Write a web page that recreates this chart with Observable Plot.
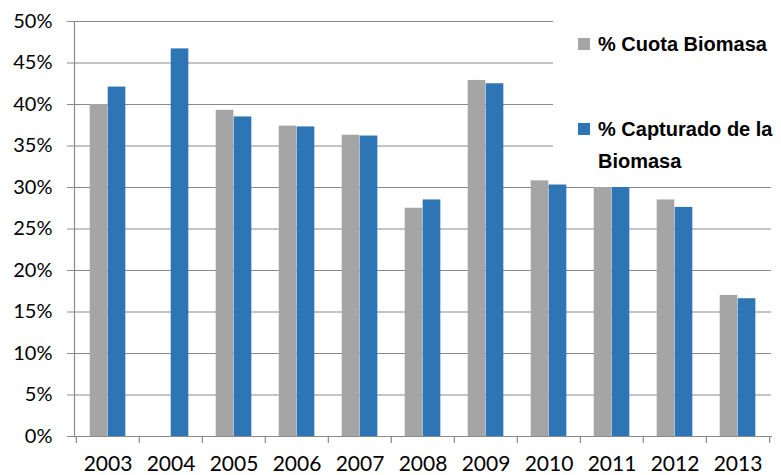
<!DOCTYPE html>
<html>
<head>
<meta charset="utf-8">
<script src="https://cdn.jsdelivr.net/npm/d3@7"></script>
<script src="https://cdn.jsdelivr.net/npm/@observablehq/plot@0.6"></script>
<style>
  html, body { margin: 0; padding: 0; background: #fff; }
  #wrap { position: relative; width: 781px; height: 475px; font-family: Lato, "Open Sans", sans-serif; }
  #legend { position: absolute; left: 553px; top: 0; width: 228px; height: 176px; background: #fff;
            font-family: "Liberation Sans", Arial, sans-serif; font-weight: 700; font-size: 20px; color: #000; }
  .item { position: absolute; left: 25px; line-height: 32px; }
  .sw { position: absolute; left: 0; width: 12px; height: 12px; top: 10px; }
  .txt { position: absolute; left: 20px; white-space: nowrap; }
</style>
</head>
<body>
<div id="wrap"><div id="chart"></div>
  <div id="legend"></div>
</div>
<script>
const years = ["2003","2004","2005","2006","2007","2008","2009","2010","2011","2012","2013"];
const cuota = [40.0, null, 39.3, 37.4, 36.3, 27.5, 42.9, 30.8, 30.0, 28.5, 17.0];
const capturado = [42.1, 46.7, 38.5, 37.3, 36.2, 28.5, 42.5, 30.3, 30.0, 27.6, 16.6];
const seriesNames = ["% Cuota Biomasa", "% Capturado de la Biomasa"];
const seriesColors = ["#A5A5A5", "#2E75B6"];
const yTicks = [0, 5, 10, 15, 20, 25, 30, 35, 40, 45, 50];

const dCuota = years.map((y, i) => ({year: y, value: cuota[i]})).filter(d => d.value != null);
const dCap = years.map((y, i) => ({year: y, value: capturado[i]}));

const W = 781, H = 475, mL = 74, mR = 10, mT = 21, mB = 39;
const step = (W - mL - mR) / years.length;
const half = step / 2;
const grid = "#8a8a8a";

const chart = Plot.plot({
  width: W, height: H,
  marginLeft: mL, marginRight: mR, marginTop: mT, marginBottom: mB,
  style: {fontFamily: "Lato, 'Open Sans', sans-serif", background: "#fff", color: "#000"},
  x: {domain: years, padding: 0, label: null},
  y: {domain: [0, 50], label: null},
  marks: [
    Plot.ruleY(yTicks, {y: d => d, stroke: grid, strokeWidth: 1.2}),
    Plot.barY(dCuota, {x: "year", y: "value", fill: seriesColors[0], insetLeft: 13.7, insetRight: step - 31.7}),
    Plot.barY(dCap, {x: "year", y: "value", fill: seriesColors[1], insetLeft: 31.7, insetRight: step - 49.7}),
    Plot.frame({anchor: "left", stroke: grid, strokeWidth: 1.2}),
    Plot.frame({anchor: "bottom", stroke: grid, strokeWidth: 1.2}),
    Plot.ruleX(years, {x: d => d, dx: -half, stroke: grid, strokeWidth: 1.2, insetTop: H - mT - mB, insetBottom: -7}),
    Plot.ruleX([years[years.length - 1]], {x: d => d, dx: half, stroke: grid, strokeWidth: 1.2, insetTop: H - mT - mB, insetBottom: -7}),
    Plot.axisY({ticks: yTicks, tickFormat: d => d + "%", tickSize: 7, tickPadding: 15, stroke: grid, fontSize: 20, fill: "#000", label: null}),
    Plot.axisX({tickSize: 0, tickPadding: 20, fontSize: 21, fill: "#000", label: null})
  ]
});
document.getElementById("chart").appendChild(chart);

const legend = document.getElementById("legend");
const tops = [28, 113];
seriesNames.forEach((name, i) => {
  const it = document.createElement("div");
  it.className = "item";
  it.style.top = tops[i] + "px";
  const sw = document.createElement("div");
  sw.className = "sw";
  sw.style.background = seriesColors[i];
  const tx = document.createElement("div");
  tx.className = "txt";
  tx.innerHTML = i === 1 ? "% Capturado de la<br>Biomasa" : name;
  it.appendChild(sw); it.appendChild(tx);
  legend.appendChild(it);
});
</script>
</body>
</html>
